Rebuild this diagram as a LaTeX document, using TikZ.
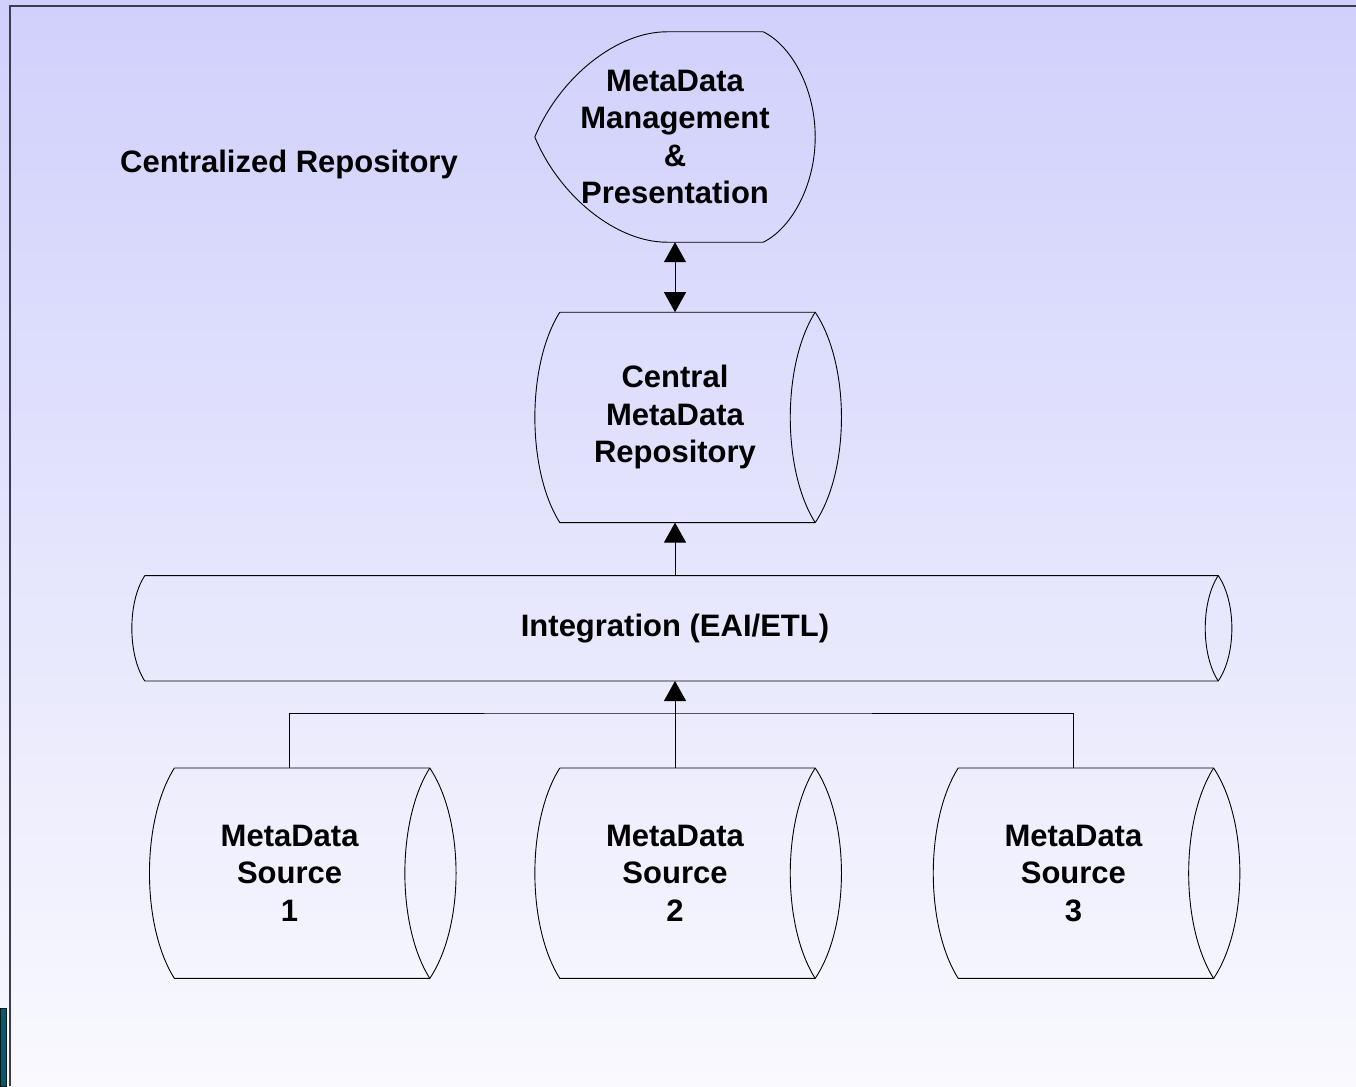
\documentclass[tikz,border=0pt]{standalone}
\usepackage{fontspec}
\setmainfont{Liberation Sans}
\usepackage{tikz}
\usetikzlibrary{calc,positioning,arrows.meta}

\definecolor{bgtop}{HTML}{D0D0FC}
\definecolor{bgbot}{HTML}{F9F9FE}
\definecolor{framecol}{HTML}{3C3C4E}
\definecolor{tealbox}{HTML}{0B5866}

\tikzset{
  outline/.style={draw=black,line width=0.9pt},
  base/.style={font=\fontsize{31}{37.5}\selectfont\bfseries,align=center,inner sep=0pt},
  % drum: width, height, bulge of the curved ends
  drum/.style n args={3}{base,minimum width=#1,minimum height=#2,
    append after command={\pgfextra{
      \draw[outline] ([xshift=#3]\tikzlastnode.north west) -- (\tikzlastnode.north east)
        .. controls +({1.4*#3},{#2/4}) and +({1.4*#3},{-#2/4}) .. (\tikzlastnode.south east)
        -- ([xshift=#3]\tikzlastnode.south west)
        .. controls +({-1.33*#3},{-#2/4}) and +({-1.33*#3},{#2/4}) .. ([xshift=#3]\tikzlastnode.north west);
      \draw[outline] (\tikzlastnode.north east)
        .. controls +({-1.33*#3},{#2/4}) and +({-1.33*#3},{-#2/4}) .. (\tikzlastnode.south east);
    }}},
  display/.style={base,minimum width=280,minimum height=210,
    append after command={\pgfextra{
      \draw[outline] (\tikzlastnode.west)
        .. controls +(25,-60) and +(-50,0) .. ([xshift=132]\tikzlastnode.north west)
        -- ([xshift=-52]\tikzlastnode.north east)
        .. controls +(27,13) and +(0,-50) .. (\tikzlastnode.east)
        .. controls +(0,50) and +(27,-13) .. ([xshift=-52]\tikzlastnode.south east)
        -- ([xshift=132]\tikzlastnode.south west)
        .. controls +(-50,0) and +(25,60) .. (\tikzlastnode.west);
    }}},
  >={Triangle[width=22pt,length=20pt]}
}

\begin{document}
\begin{tikzpicture}[x=1pt,y=-1pt]
  \useasboundingbox (0,0) rectangle (1356,1086);
  \shade[top color=bgtop,bottom color=bgbot] (0,0) rectangle (1356,1086);
  \draw[framecol,line width=1.6pt] (10,1086) -- (10,6) -- (1356,6);
  \fill[tealbox,draw=black!70!tealbox] (0,1008) rectangle (6,1086);

  \node (title) at (289,164) [base] {Centralized Repository};
  \node (mgmt) at (675,137) [display] {MetaData\\Management\\\&\\Presentation};
  \node (central) [below=70pt of mgmt,drum={280}{210}{25}] {Central\\MetaData\\Repository};
  \node (integ) [below=53pt of central,drum={1086}{105}{13}] {Integration (EAI/ETL)};
  \node (src2) [below=87pt of integ,drum={280}{210}{25}] {MetaData\\Source\\2};
  \node (src1) [left=105pt of src2,drum={280}{210}{25}] {MetaData\\Source\\1};
  \node (src3) [right=118pt of src2,drum={280}{210}{25}] {MetaData\\Source\\3};

  \draw[outline,<->] (mgmt) -- (central);
  \draw[outline,->] (integ) -- (central);
  \draw[outline,->] (src2) -- (integ);
  \draw[outline] (src1.north) |- ([yshift=-32pt]integ.south) -| (src3.north);
\end{tikzpicture}
\end{document}
